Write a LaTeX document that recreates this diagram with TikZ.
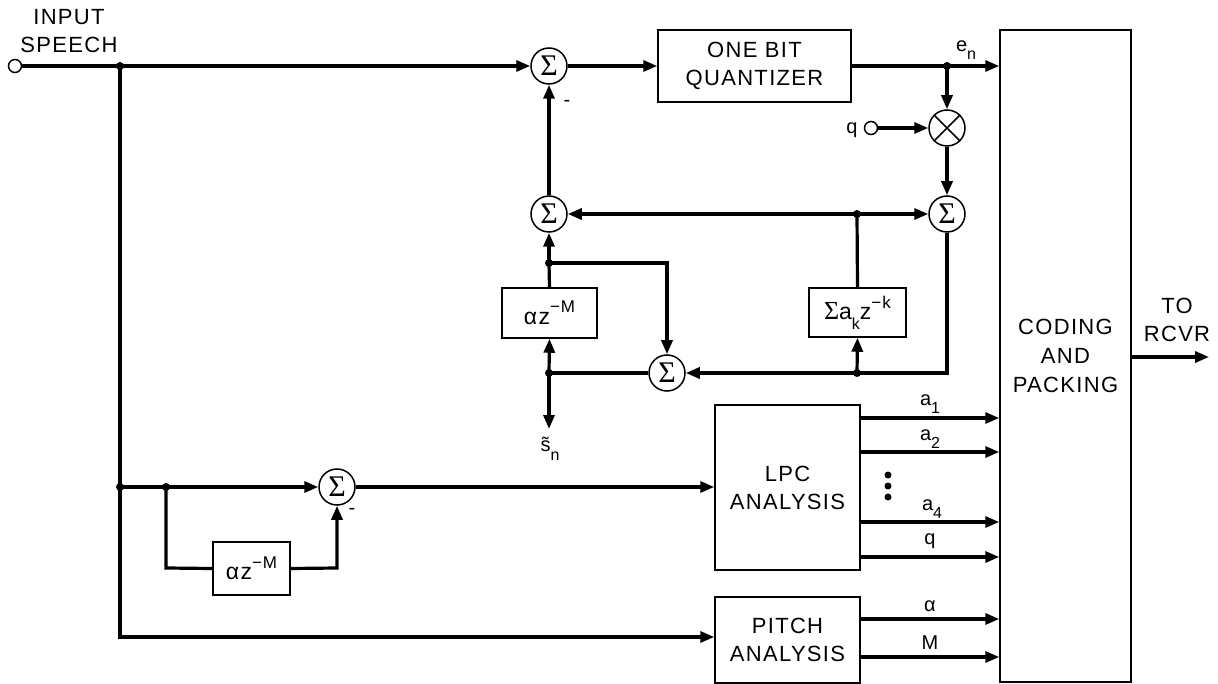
\documentclass[tikz,border=0pt]{standalone}
\usepackage{fontspec}
\setmainfont{Liberation Sans}[LetterSpace=6]
\newfontfamily\symfont{Liberation Serif}
\usetikzlibrary{arrows.meta}
\newcommand\sbs[1]{\raisebox{-0.42em}{\fontsize{16}{16}\selectfont #1}}
\newcommand\sps[1]{\raisebox{0.5em}{\fontsize{17}{17}\selectfont #1}}
\begin{document}
\begin{tikzpicture}[x=1pt,y=-1pt,
  conn/.style={line width=3.2pt,-{Triangle[length=14pt,width=11pt]}},
  wire/.style={line width=3.2pt},
  blk/.style={draw,line width=1.5pt,inner sep=0pt,font=\fontsize{22}{28}\selectfont,align=center},
  sumn/.style={draw,circle,line width=1.5pt,minimum size=36pt,inner sep=0pt,fill=white,font=\fontsize{30}{30}\selectfont},
  jdot/.style={circle,fill,inner sep=0pt,minimum size=8pt},
  port/.style={draw,circle,line width=1.5pt,minimum size=13pt,inner sep=0pt,fill=white},
  lbl/.style={font=\fontsize{22}{28}\selectfont,align=center,inner sep=0pt},
  slbl/.style={font=\fontsize{20}{24}\selectfont,inner sep=0pt}]
\useasboundingbox (0,0) rectangle (1218,684);

% blocks
\node[blk,minimum width=193pt,minimum height=72pt] (quant) at (754.5,66) {ONE BIT\\QUANTIZER};
\node[blk,minimum width=131pt,minimum height=652pt,font=\fontsize{22}{29}\selectfont] (code) at (1065.5,356) {CODING\\AND\\PACKING};
\node[blk,minimum width=95pt,minimum height=50pt,font=\fontsize{23}{28}\selectfont] (az1) at (549.5,313) {αz\sps{−M}};
\node[blk,minimum width=97pt,minimum height=49pt,font=\fontsize{23}{28}\selectfont] (ak) at (857.5,312.5) {{\symfont\fontsize{26}{28}\selectfont Σ}a\sbs{k}z\sps{−k}};
\node[blk,minimum width=77pt,minimum height=53pt,font=\fontsize{23}{28}\selectfont] (az2) at (251.5,568.5) {αz\sps{−M}};
\node[blk,minimum width=145pt,minimum height=165pt] (lpc) at (787.5,487.5) {LPC\\ANALYSIS};
\node[blk,minimum width=145pt,minimum height=86pt] (pitch) at (787.5,640) {PITCH\\ANALYSIS};

% summers and multiplier
\node[sumn] (s1) at (549,66) {\symfont Σ};
\node[sumn] (s2) at (549,214) {\symfont Σ};
\node[sumn] (sR) at (947,214) {\symfont Σ};
\node[sumn] (s3) at (667,373) {\symfont Σ};
\node[sumn] (s4) at (337,487) {\symfont Σ};
\node[sumn] (mul) at (947,128) {};
\draw[line width=1.5pt] (mul.45) -- (mul.225) (mul.135) -- (mul.-45);

% ports
\node[port] (inp) at (15,66) {};
\node[port] (qin) at (871,128) {};

% junctions and corners
\coordinate (J1) at (120,66);
\coordinate (J2) at (947,66);
\coordinate (J3) at (857,214);
\coordinate (J4) at (857,373);
\coordinate (J5) at (549,373);
\coordinate (J6) at (549,263);
\coordinate (J7) at (120,487);
\coordinate (J8) at (166,487);
\coordinate (c6) at (667,263);
\coordinate (cR) at (947,373);
\coordinate (c7) at (120,637);
\coordinate (c8) at (166,568);
\coordinate (c4) at (337,568);
\coordinate (sn) at (549,429);
\coordinate (yA) at (0,418);
\coordinate (yB) at (0,452);
\coordinate (yC) at (0,522);
\coordinate (yD) at (0,557);
\coordinate (yE) at (0,619);
\coordinate (yF) at (0,657);
\coordinate (yO) at (0,357);
\coordinate (outp) at (1209,357);

% connectors
\draw[conn] (inp.east) -- (s1.west);
\draw[conn] (s1.east) -- (quant.west);
\draw[conn] (quant.east) -- (J2 -| code.west);
\draw[conn] (J2) -- (mul.north);
\draw[conn] (qin.east) -- (mul.west);
\draw[conn] (mul.south) -- (sR.north);
\draw[wire] (ak.north) -- (J3);
\draw[conn] (J3) -- (sR.west);
\draw[conn] (J3) -- (s2.east);
\draw[conn] (s2.north) -- (s1.south);
\draw[wire] (sR.south) -- (cR) -- (J4);
\draw[conn] (J4) -- (s3.east);
\draw[conn] (J4) -- (ak.south);
\draw[wire] (s3.west) -- (J5);
\draw[conn] (J5) -- (az1.south);
\draw[conn] (J5) -- (sn);
\draw[wire] (az1.north) -- (J6);
\draw[conn] (J6) -- (s2.south);
\draw[conn] (J6) -- (c6) -- (s3.north);
\draw[wire] (J1) -- (J7);
\draw[conn] (J7) -- (c7) -- (pitch.west |- c7);
\draw[conn] (J7) -- (s4.west);
\draw[wire] (J8) -- (c8) -- (az2.west);
\draw[conn] (az2.east) -- (c4) -- (s4.south);
\draw[conn] (s4.east) -- (lpc.west |- s4);
\draw[conn] (lpc.east |- yA) -- (code.west |- yA);
\draw[conn] (lpc.east |- yB) -- (code.west |- yB);
\draw[conn] (lpc.east |- yC) -- (code.west |- yC);
\draw[conn] (lpc.east |- yD) -- (code.west |- yD);
\draw[conn] (pitch.east |- yE) -- (code.west |- yE);
\draw[conn] (pitch.east |- yF) -- (code.west |- yF);
\draw[conn] (code.east |- yO) -- (outp);

% junction dots
\foreach \j in {J1,J2,J3,J4,J5,J6,J7,J8} \node[jdot] at (\j) {};

% dots between outputs
\node[jdot,minimum size=7pt] (d1) at (888,475) {};
\node[jdot,minimum size=7pt] (d2) at (888,486) {};
\node[jdot,minimum size=7pt] (d3) at (888,497) {};

% labels
\node[lbl] (tin) at (69,31) {INPUT\\SPEECH};
\node[slbl] (ten) at (966,50) {e\sbs{n}};
\node[slbl] (tq) at (852,130) {q};
\node[slbl] (tm1) at (567,103) {-};
\node[slbl] (tm2) at (352,511) {-};
\node[slbl] (tsn) at (550,449) {\~{s}\sbs{n}};
\node[slbl] (ta1) at (930,404) {a\sbs{1}};
\node[slbl] (ta2) at (930,439) {a\sbs{2}};
\node[slbl] (ta4) at (932,509) {a\sbs{4}};
\node[slbl] (tqq) at (930,541) {q};
\node[slbl] (tal) at (930,606) {α};
\node[slbl] (tM) at (930,643) {M};
\node[lbl] (trc) at (1177,320) {TO\\RCVR};
\end{tikzpicture}
\end{document}
